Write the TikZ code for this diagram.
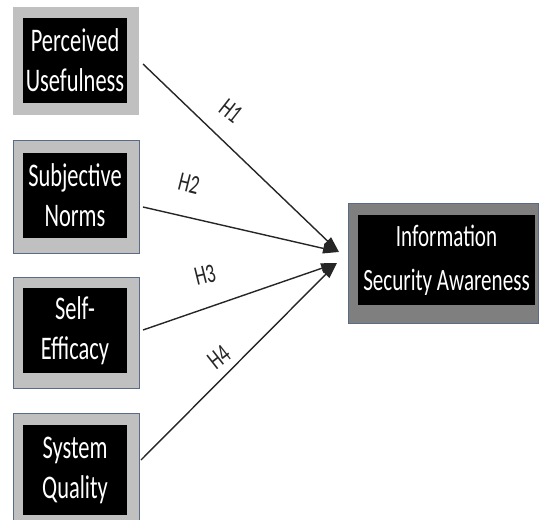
\documentclass[tikz,border=0pt]{standalone}
\usepackage{fontspec}
\setmainfont{Carlito}
\newfontfamily\condfont{Carlito}[FakeStretch=0.68]
\usetikzlibrary{arrows.meta}
\definecolor{outerlight}{HTML}{C0C0C0}
\definecolor{outerdark}{HTML}{7F7F7F}
\definecolor{edgeblue}{HTML}{5A6B85}
\tikzset{
  outerbox/.style={rectangle, fill=outerlight, inner sep=0pt},
  innerbox/.style={rectangle, fill=black, text=white, inner sep=0pt, minimum width=104pt,
     align=center, font=\condfont\fontsize{33}{40}\selectfont},
  link/.style={line width=1.4pt, draw=black!85, -{Triangle[length=16pt,width=10pt]}},
  hlab/.style={font=\condfont\fontsize{27}{30}\selectfont, text=black!85, inner sep=0pt}
}
\begin{document}
\begin{tikzpicture}[x=1pt,y=-1pt]
\useasboundingbox (0,0) rectangle (539,520);
% left outer boxes
\node[outerbox, minimum width=126pt, minimum height=108pt] (o1) at (76,61) {};
\node[outerbox, draw=edgeblue, line width=0.8pt, minimum width=126pt, minimum height=113pt] (o2) at (76,196.5) {};
\node[outerbox, draw=edgeblue, line width=0.8pt, minimum width=126pt, minimum height=111pt] (o3) at (76,332.5) {};
\node[outerbox, draw=edgeblue, line width=0.8pt, minimum width=126pt, minimum height=110pt] (o4) at (76,468) {};
% inner boxes
\node[innerbox, minimum height=85pt] (i1) at (75,60.5) {Perceived\\Usefulness};
\node[innerbox, minimum height=85pt] (i2) at (75,195.5) {Subjective\\Norms};
\node[innerbox, minimum height=85pt] (i3) at (75,330.5) {Self-\\Efficacy};
\node[innerbox, minimum height=90pt] (i4) at (75,470) {System\\Quality};
% right box
\node[outerbox, fill=outerdark, draw=edgeblue, line width=0.8pt, minimum width=190pt, minimum height=120pt] (o5) at (443,263) {};
\node[innerbox, minimum width=177pt, minimum height=90pt, font=\condfont\fontsize{31}{44}\selectfont] (i5) at (446.5,260) {Information\\Security Awareness};
% arrow tips
\coordinate (t1) at (339,252);
\coordinate (t2) at (337,263);
\coordinate (s1) at (143,64);
\coordinate (s2) at (143,207);
\coordinate (s3) at (143,330);
\coordinate (s4) at (141,460);
\draw[link] (s1) -- (t1);
\draw[link] (s2) -- (t1);
\draw[link] (s3) -- (t2);
\draw[link] (s4) -- (t2);
% labels
\node[hlab, rotate=-38] (h1) at (231,111) {H1};
\node[hlab, rotate=-14] (h2) at (189,184) {H2};
\node[hlab, rotate=14] (h3) at (205,275) {H3};
\node[hlab, rotate=38] (h4) at (219,357) {H4};
\end{tikzpicture}
\end{document}
